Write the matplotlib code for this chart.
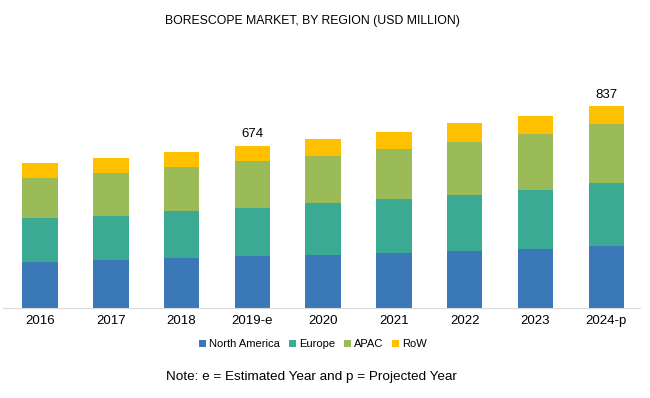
import matplotlib
matplotlib.use('Agg')
import matplotlib.pyplot as plt
import numpy as np

years = ['2016', '2017', '2018', '2019-e', '2020', '2021', '2022', '2023', '2024-p']
north_america = [194, 201, 209, 216, 223, 228, 239, 248, 260]
europe = [181, 183, 195, 199, 213, 225, 229, 244, 258]
apac = [167, 178, 181, 194, 196, 208, 222, 232, 246]
row = [61, 61, 63, 65, 70, 69, 76, 75, 73]
regions = ['North America', 'Europe', 'APAC', 'RoW']
colors = ['#3A78B8', '#3AAA92', '#9BBB59', '#FFC000']
labelled = {3: '674', 8: '837'}

plt.rcParams['font.family'] = ['Liberation Sans', 'DejaVu Sans']

fig = plt.figure(figsize=(6.5, 3.98), dpi=100)
ax = fig.add_axes([0.005, 0.225, 0.98, 0.546])

x = np.arange(len(years))
bottom = np.zeros(len(years))
for vals, name, c in zip([north_america, europe, apac, row], regions, colors):
    ax.bar(x, vals, 0.5, bottom=bottom, color=c, label=name)
    bottom += np.array(vals)

# totals shown only for estimated / projected years
for i, txt in labelled.items():
    ax.text(x[i], bottom[i] + 22, txt, ha='center', va='bottom', fontsize=9.5)

ax.set_xlim(-0.52, 8.48)
ax.set_ylim(0, 900)
ax.set_xticks(x)
ax.set_xticklabels(years, fontsize=9.5)
ax.set_yticks([])
for s in ['top', 'right', 'left']:
    ax.spines[s].set_visible(False)
ax.spines['bottom'].set_color('#D9D9D9')
ax.tick_params(axis='x', length=0, pad=5)

fig.text(0.481, 0.948, 'BORESCOPE MARKET, BY REGION (USD MILLION)', ha='center', va='center', fontsize=8.8)
fig.legend(loc='center', bbox_to_anchor=(0.482, 0.135), ncol=4, frameon=False,
           handlelength=0.6, handleheight=0.6, handletextpad=0.3, columnspacing=0.8,
           prop={'size': 8})
fig.text(0.479, 0.054, 'Note: e = Estimated Year and p = Projected Year', ha='center', va='center',
         fontsize=9.7)

fig.savefig('out.png', dpi=100)
